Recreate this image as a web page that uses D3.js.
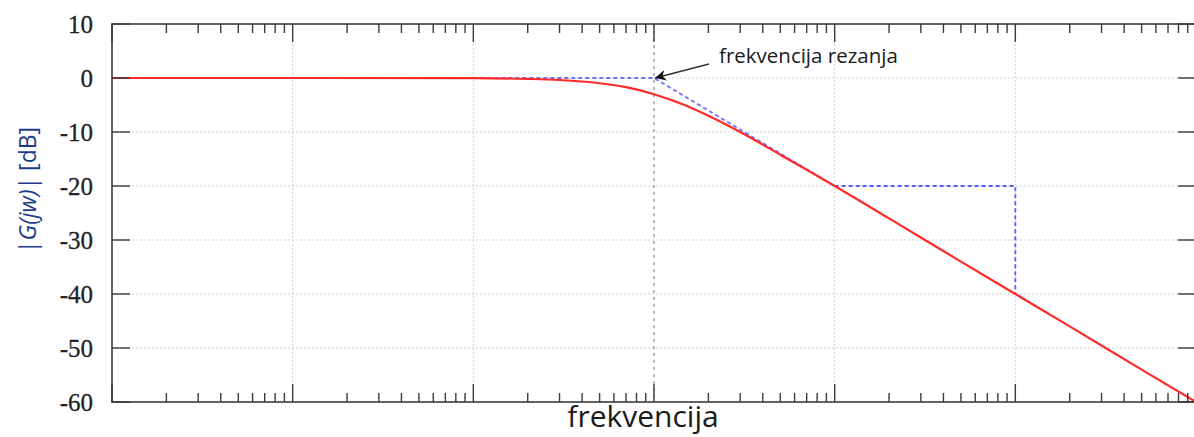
<!DOCTYPE html>
<html>
<head>
<meta charset="utf-8">
<script src="https://cdn.jsdelivr.net/npm/d3@7/dist/d3.min.js"></script>
<style>
  html, body { margin: 0; padding: 0; background: #fff; }
  svg { display: block; }
</style>
</head>
<body>
<svg id="chart" width="1194" height="437"></svg>
<script>
// ---- data ----
const freqs  = [0.001, 0.01, 0.1, 0.2, 0.3, 0.5, 0.7, 1, 1.5, 2, 3, 5, 7, 10, 20, 50, 100, 200, 500, 1000];
const gainDb = [0, 0, -0.04, -0.17, -0.37, -0.97, -1.7, -3, -5.1, -7, -10, -14.2, -17, -20, -26, -34, -40, -46, -54, -60];
const asymFreq = [0.1, 1, 10];
const asymDb   = [0, 0, -20];
const stepFreq = [10, 100, 100];
const stepDb   = [-20, -20, -40];
const yTicks = [10, 0, -10, -20, -30, -40, -50, -60];
const decades = [0.001, 0.01, 0.1, 1, 10, 100, 1000];
const cutoffFreq = 1;
const annotationText = "frekvencija rezanja";
const xLabel = "frekvencija";

(function () {
// ---- layout ----
const svg = d3.select("#chart");
const pL = 112, pR = 1196, pT = 24, pB = 402;
const x = d3.scaleLog().domain([0.001, 1000]).range([pL, pR]);
const y = d3.scaleLinear().domain([-60, 10]).range([pB, pT]);

const minor = [];
decades.slice(0, -1).forEach(d => { for (let k = 2; k <= 9; k++) minor.push(d * k); });

// grid
const grid = svg.append("g");
grid.selectAll(".gy").data(yTicks.filter(v => v !== 10 && v !== -60)).join("line")
  .attr("x1", pL).attr("x2", pR).attr("y1", d => y(d)).attr("y2", d => y(d))
  .attr("stroke", "#d0d0d0").attr("stroke-width", 1).attr("stroke-dasharray", "2,2");
grid.selectAll(".gx").data(decades.filter(d => d > 0.001 && d < 1000 && d !== cutoffFreq)).join("line")
  .attr("x1", d => x(d)).attr("x2", d => x(d)).attr("y1", pT).attr("y2", pB)
  .attr("stroke", "#d0d0d0").attr("stroke-width", 1).attr("stroke-dasharray", "2,2");
// cutoff vertical (darker dotted)
grid.append("line")
  .attr("x1", x(cutoffFreq)).attr("x2", x(cutoffFreq)).attr("y1", pT).attr("y2", pB)
  .attr("stroke", "#888").attr("stroke-width", 1.2).attr("stroke-dasharray", "3,4");

// asymptotes (blue dashed)
const line = d3.line().x(d => x(d[0])).y(d => y(d[1]));
svg.append("path").datum(d3.zip(asymFreq, asymDb)).attr("d", line)
  .attr("fill", "none").attr("stroke", "#7070ff").attr("stroke-width", 1.8).attr("stroke-dasharray", "4,3");
svg.append("path").datum(d3.zip(stepFreq, stepDb)).attr("d", line)
  .attr("fill", "none").attr("stroke", "#5a5aff").attr("stroke-width", 1.8).attr("stroke-dasharray", "4,3");

// response curve
const curve = d3.line().x(d => x(d[0])).y(d => y(d[1])).curve(d3.curveMonotoneX);
svg.append("path").datum(d3.zip(freqs, gainDb)).attr("d", curve)
  .attr("fill", "none").attr("stroke", "#ff2a2a").attr("stroke-width", 2.2);

// frame
svg.append("rect").attr("x", pL).attr("y", pT).attr("width", pR - pL).attr("height", pB - pT)
  .attr("fill", "none").attr("stroke", "#3a3a3a").attr("stroke-width", 1.6);

// x ticks (bottom pointing up, top pointing down)
const tk = svg.append("g").attr("stroke", "#3a3a3a").attr("stroke-width", 1.4);
tk.selectAll(".mb").data(minor).join("line")
  .attr("x1", d => x(d)).attr("x2", d => x(d)).attr("y1", pB).attr("y2", pB - 9);
tk.selectAll(".mt").data(minor).join("line")
  .attr("x1", d => x(d)).attr("x2", d => x(d)).attr("y1", pT).attr("y2", pT + 9);
tk.selectAll(".Mb").data(decades).join("line")
  .attr("x1", d => x(d)).attr("x2", d => x(d)).attr("y1", pB).attr("y2", pB - 18);
tk.selectAll(".Mt").data(decades).join("line")
  .attr("x1", d => x(d)).attr("x2", d => x(d)).attr("y1", pT).attr("y2", pT + 18);
// y ticks
tk.selectAll(".yl").data(yTicks).join("line")
  .attr("x1", pL).attr("x2", pL + 18).attr("y1", d => y(d)).attr("y2", d => y(d));
tk.selectAll(".yr").data(yTicks).join("line")
  .attr("x1", pR).attr("x2", pR - 18).attr("y1", d => y(d)).attr("y2", d => y(d));

// y tick labels
svg.append("g").selectAll("text").data(yTicks).join("text")
  .attr("x", 93).attr("y", d => y(d)).attr("dy", "0.35em")
  .attr("text-anchor", "end")
  .attr("font-family", "'Liberation Serif', 'Times New Roman', serif")
  .attr("font-size", 25).attr("fill", "#222")
  .attr("stroke", "#222").attr("stroke-width", 0.3)
  .text(d => d);

// y axis label
const yl = svg.append("text")
  .attr("transform", `translate(36,${190}) rotate(-90)`)
  .attr("text-anchor", "middle")
  .attr("font-family", "'Open Sans', 'Noto Sans', sans-serif")
  .attr("font-size", 23).attr("fill", "#1f3c88");
yl.append("tspan").text("|");
yl.append("tspan").attr("font-style", "italic").text("G(jw)");
yl.append("tspan").text("| [dB]");

// x axis label
svg.append("text").attr("x", 643).attr("y", 427)
  .attr("text-anchor", "middle")
  .attr("font-family", "'Open Sans', 'Noto Sans', sans-serif")
  .attr("font-size", 30).attr("fill", "#1a1a1a")
  .text(xLabel);

// annotation
const defs = svg.append("defs");
defs.append("marker").attr("id", "arrow").attr("viewBox", "0 0 10 10")
  .attr("refX", 10).attr("refY", 5).attr("markerWidth", 17).attr("markerHeight", 11)
  .attr("orient", "auto").attr("markerUnits", "userSpaceOnUse")
  .append("path").attr("d", "M0,0 L10,5 L0,10 L3,5 Z").attr("fill", "#111");
svg.append("line")
  .attr("x1", 709).attr("y1", 64).attr("x2", x(cutoffFreq) + 1).attr("y2", y(0))
  .attr("stroke", "#333").attr("stroke-width", 1.3)
  .attr("marker-end", "url(#arrow)");
svg.append("text").attr("x", 719).attr("y", 63)
  .attr("font-family", "'Open Sans', 'Noto Sans', sans-serif")
  .attr("font-size", 20.5).attr("fill", "#1a1a1a")
  .text(annotationText);
})();
</script>
</body>
</html>
